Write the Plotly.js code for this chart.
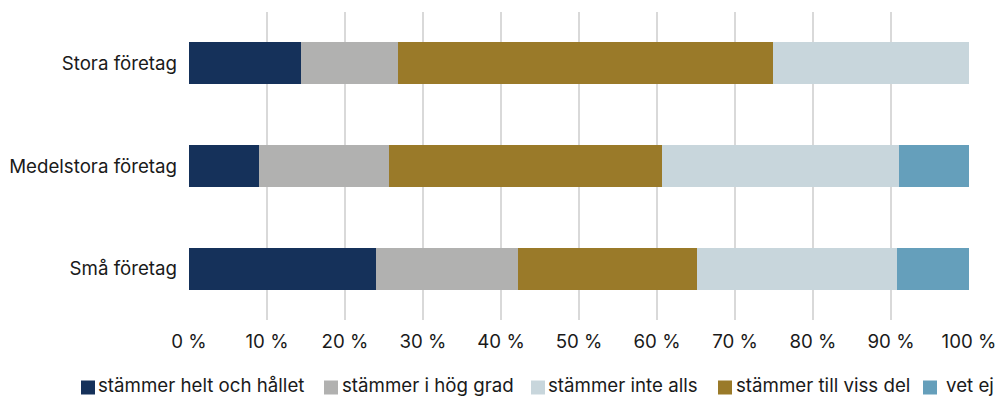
<!DOCTYPE html>
<html>
<head>
<meta charset="utf-8">
<script src="https://cdn.plot.ly/plotly-3.0.1.min.js"></script>
<style>
  html, body { margin: 0; padding: 0; background: #fff; }
  #chart { width: 999px; height: 397px; }
</style>
</head>
<body>
<div id="chart"></div>
<script>
// Företagsstorlekar (uppifrån och ned)
const categories = ['Stora företag', 'Medelstora företag', 'Små företag'];

// Andel svar i procent per svarsalternativ
const seriesNames = [
  'stämmer helt och hållet',
  'stämmer i hög grad',
  'stämmer till viss del',
  'stämmer inte alls',
  'vet ej'
];
const heltOchHallet = [14.3, 9.0, 24.0];
const iHogGrad      = [12.5, 16.7, 18.2];
const tillVissDel   = [48.1, 34.9, 22.9];
const inteAlls      = [25.1, 30.4, 25.7];
const vetEj         = [0.0, 9.0, 9.3];

const tickValues = [0, 10, 20, 30, 40, 50, 60, 70, 80, 90, 100];
const tickLabels = ['0 %', '10 %', '20 %', '30 %', '40 %', '50 %', '60 %', '70 %', '80 %', '90 %', '100 %'];

const colors = ['#15315a', '#b1b1b0', '#9a7a29', '#c8d6dc', '#659fbb'];
const values = [heltOchHallet, iHogGrad, tillVissDel, inteAlls, vetEj];

// Legend entries are listed in this order (indices into seriesNames)
const legendOrder = [0, 1, 3, 2, 4];

// Figure geometry in pixels
const W = 999, H = 397;
const M = { l: 189, r: 30, t: 12, b: 77 };
const plotW = W - M.l - M.r;
const plotH = H - M.t - M.b;
const pxToPaperX = px => (px - M.l) / plotW;
const pxToPaperY = py => (H - M.b - py) / plotH;

// Legend row: swatch left edges, text left edges, swatch size, row centre
const legendSwatchLeft = [81, 324, 531, 718, 923];
const legendTextLeft   = [97, 341, 547, 735, 945];
const swatchSize = 14;
const legendRowY = 386;

const traces = values.map((vals, i) => ({
  type: 'bar',
  orientation: 'h',
  name: seriesNames[i],
  x: vals,
  y: categories,
  marker: { color: colors[i], line: { width: 0 } },
  hoverinfo: 'name+x'
}));

const font = { family: 'Inter, "Noto Sans", sans-serif', size: 18.7, color: '#1a1a1a' };

const shapes = [];
const annotations = [];
legendOrder.forEach((si, k) => {
  shapes.push({
    type: 'rect',
    xref: 'paper', yref: 'paper',
    x0: pxToPaperX(legendSwatchLeft[k]),
    x1: pxToPaperX(legendSwatchLeft[k] + swatchSize),
    y0: pxToPaperY(legendRowY + swatchSize / 2 + 1.5),
    y1: pxToPaperY(legendRowY - swatchSize / 2 + 1.5),
    fillcolor: colors[si],
    line: { width: 0 }
  });
  annotations.push({
    xref: 'paper', yref: 'paper',
    x: pxToPaperX(legendTextLeft[k]),
    y: pxToPaperY(legendRowY),
    xanchor: 'left', yanchor: 'middle',
    text: seriesNames[si],
    showarrow: false,
    font: font,
    borderpad: 0
  });
});

const layout = {
  width: W,
  height: H,
  margin: M,
  barmode: 'stack',
  bargap: 0.59,
  paper_bgcolor: '#ffffff',
  plot_bgcolor: '#ffffff',
  font: font,
  showlegend: false,
  shapes: shapes,
  annotations: annotations,
  xaxis: {
    range: [0, 100],
    tickvals: tickValues,
    ticktext: tickLabels,
    showgrid: true,
    gridcolor: '#d9d9d9',
    gridwidth: 1.5,
    zeroline: false,
    showline: false,
    ticks: '',
    ticklabelstandoff: 8,
    tickfont: font,
    fixedrange: true
  },
  yaxis: {
    type: 'category',
    autorange: 'reversed',
    showgrid: false,
    zeroline: false,
    showline: false,
    ticks: '',
    ticklabelstandoff: 11,
    tickfont: font,
    fixedrange: true
  }
};

Plotly.newPlot('chart', traces, layout, { displayModeBar: false, staticPlot: true });
</script>
</body>
</html>
